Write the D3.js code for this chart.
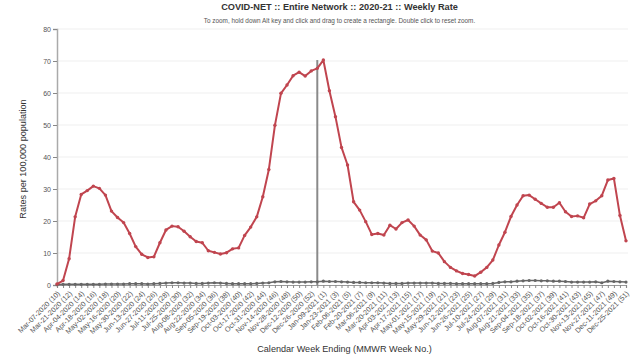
<!DOCTYPE html>
<html>
<head>
<meta charset="utf-8">
<script src="https://cdn.jsdelivr.net/npm/d3@7"></script>
<style>
  html, body { margin: 0; padding: 0; background: #fff; }
  svg { display: block; font-family: "Liberation Sans", Arial, Helvetica, sans-serif; }
</style>
</head>
<body>
<svg id="chart" width="640" height="360"></svg>
<script>
const weeks = [
  "Mar-07-2020 (10)","Mar-14-2020 (11)","Mar-21-2020 (12)","Mar-28-2020 (13)","Apr-04-2020 (14)","Apr-11-2020 (15)",
  "Apr-18-2020 (16)","Apr-25-2020 (17)","May-02-2020 (18)","May-09-2020 (19)","May-16-2020 (20)","May-23-2020 (21)",
  "May-30-2020 (22)","Jun-06-2020 (23)","Jun-13-2020 (24)","Jun-20-2020 (25)","Jun-27-2020 (26)","Jul-04-2020 (27)",
  "Jul-11-2020 (28)","Jul-18-2020 (29)","Jul-25-2020 (30)","Aug-01-2020 (31)","Aug-08-2020 (32)","Aug-15-2020 (33)",
  "Aug-22-2020 (34)","Aug-29-2020 (35)","Sep-05-2020 (36)","Sep-12-2020 (37)","Sep-19-2020 (38)","Sep-26-2020 (39)",
  "Oct-03-2020 (40)","Oct-10-2020 (41)","Oct-17-2020 (42)","Oct-24-2020 (43)","Oct-31-2020 (44)","Nov-07-2020 (45)",
  "Nov-14-2020 (46)","Nov-21-2020 (47)","Nov-28-2020 (48)","Dec-05-2020 (49)","Dec-12-2020 (50)","Dec-19-2020 (51)",
  "Dec-26-2020 (52)","Jan-02-2021 (53)",
  "Jan-09-2021 (1)","Jan-16-2021 (2)","Jan-23-2021 (3)","Jan-30-2021 (4)","Feb-06-2021 (5)","Feb-13-2021 (6)",
  "Feb-20-2021 (7)","Feb-27-2021 (8)","Mar-06-2021 (9)","Mar-13-2021 (10)","Mar-20-2021 (11)","Mar-27-2021 (12)",
  "Apr-03-2021 (13)","Apr-10-2021 (14)","Apr-17-2021 (15)","Apr-24-2021 (16)","May-01-2021 (17)","May-08-2021 (18)",
  "May-15-2021 (19)","May-22-2021 (20)","May-29-2021 (21)","Jun-05-2021 (22)","Jun-12-2021 (23)","Jun-19-2021 (24)",
  "Jun-26-2021 (25)","Jul-03-2021 (26)","Jul-10-2021 (27)","Jul-17-2021 (28)","Jul-24-2021 (29)","Jul-31-2021 (30)",
  "Aug-07-2021 (31)","Aug-14-2021 (32)","Aug-21-2021 (33)","Aug-28-2021 (34)","Sep-04-2021 (35)","Sep-11-2021 (36)",
  "Sep-18-2021 (37)","Sep-25-2021 (38)","Oct-02-2021 (39)","Oct-09-2021 (40)","Oct-16-2021 (41)","Oct-23-2021 (42)",
  "Oct-30-2021 (43)","Nov-06-2021 (44)","Nov-13-2021 (45)","Nov-20-2021 (46)","Nov-27-2021 (47)","Dec-04-2021 (48)",
  "Dec-11-2021 (49)","Dec-18-2021 (50)","Dec-25-2021 (51)"
];

const rateMain = [
  0.3, 1.4, 8.2, 21.3, 28.3, 29.5, 30.9, 30.2, 28.1, 23.1,
  21.1, 19.5, 16.1, 12.0, 9.6, 8.6, 8.8, 13.2, 17.2, 18.4,
  18.2, 16.8, 15.1, 13.6, 13.2, 10.7, 10.2, 9.7, 10.1, 11.3,
  11.6, 15.5, 18.1, 21.3, 27.6, 36.1, 49.9, 59.9, 62.5, 65.4,
  66.5, 65.3, 66.9, 67.7, 70.3, 60.7, 52.6, 43.0, 37.5, 26.0,
  23.4, 19.8, 15.8, 16.1, 15.6, 18.7, 17.5, 19.5, 20.3, 18.4,
  15.6, 14.1, 10.6, 10.0, 7.3, 5.5, 4.4, 3.6, 3.3, 2.8,
  4.0, 5.5, 7.8, 12.5, 16.5, 21.4, 25.0, 27.9, 28.1, 26.8,
  25.5, 24.3, 24.3, 25.7, 22.9, 21.4, 21.6, 21.0, 25.3, 26.3,
  27.9, 32.8, 33.3, 21.7, 13.8
];

const rateSecond = [
  0.1, 0.2, 0.2, 0.2, 0.2, 0.2, 0.2, 0.2, 0.3, 0.3,
  0.3, 0.3, 0.4, 0.4, 0.4, 0.3, 0.4, 0.5, 0.6, 0.7,
  0.7, 0.6, 0.6, 0.5, 0.5, 0.6, 0.7, 0.6, 0.5, 0.4,
  0.4, 0.4, 0.4, 0.5, 0.6, 0.7, 1.0, 1.1, 1.0, 0.9,
  0.9, 0.9, 1.0, 1.0, 1.2, 1.1, 1.1, 1.0, 0.9, 0.8,
  0.8, 0.7, 0.7, 0.7, 0.6, 0.5, 0.5, 0.5, 0.6, 0.6,
  0.6, 0.6, 0.6, 0.5, 0.5, 0.5, 0.4, 0.4, 0.4, 0.4,
  0.4, 0.4, 0.5, 0.8, 1.0, 1.0, 1.2, 1.3, 1.4, 1.4,
  1.3, 1.3, 1.2, 1.2, 1.1, 0.9, 0.9, 0.9, 0.9, 1.0,
  0.7, 1.2, 1.1, 1.0, 0.9
];

const yTicks = [0, 10, 20, 30, 40, 50, 60, 70, 80];
const seasonBreak = "Jan-02-2021 (53)";

const titleText = "COVID-NET :: Entire Network :: 2020-21 :: Weekly Rate";
const subtitleText = "To zoom, hold down Alt key and click and drag to create a rectangle. Double click to reset zoom.";
const yTitle = "Rates per 100,000 population";
const xTitle = "Calendar Week Ending (MMWR Week No.)";

const W = 640, H = 360;
const margin = { top: 29, right: 14, bottom: 75, left: 57 };
const svg = d3.select("#chart");

const x = d3.scalePoint().domain(weeks).range([margin.left, W - margin.right]).padding(0);
const y = d3.scaleLinear().domain([0, 80]).range([H - margin.bottom, margin.top]);

// gridlines
svg.append("g")
  .selectAll("line")
  .data(yTicks.filter(d => d > 0))
  .join("line")
  .attr("x1", margin.left).attr("x2", W - margin.right + 2)
  .attr("y1", d => y(d)).attr("y2", d => y(d))
  .attr("stroke", "#efefef").attr("stroke-width", 1);

// title + subtitle
const cx = (margin.left + W - margin.right) / 2;
svg.append("text").attr("x", cx - 2).attr("y", 10)
  .attr("text-anchor", "middle").attr("font-size", 9.2).attr("font-weight", "bold")
  .attr("fill", "#333").text(titleText);
svg.append("text").attr("x", cx - 2).attr("y", 22.5)
  .attr("text-anchor", "middle").attr("font-size", 6.4)
  .attr("fill", "#555").text(subtitleText);

// y axis
const yAxis = svg.append("g")
  .attr("transform", `translate(${margin.left},0)`)
  .call(d3.axisLeft(y).tickValues(yTicks).tickSize(4).tickPadding(2));
yAxis.select(".domain").attr("stroke", "#aaa").attr("stroke-width", 1.5);
yAxis.selectAll(".tick line").attr("stroke", "#888");
yAxis.selectAll(".tick text").attr("font-size", 7).attr("fill", "#555")
  .attr("font-family", "'Liberation Sans', Arial, sans-serif");

// x axis
const xAxis = svg.append("g")
  .attr("transform", `translate(0,${y(0)})`)
  .call(d3.axisBottom(x)
    .tickValues(weeks)
    .tickSize(3)
    .tickFormat((d, i) => (i % 2 === 0 ? d : "")));
xAxis.select(".domain").attr("stroke", "#999").attr("stroke-width", 1.2);
xAxis.selectAll(".tick line").attr("stroke", "#888");
xAxis.selectAll(".tick text")
  .attr("font-size", 7.2).attr("fill", "#555")
  .attr("font-family", "'Liberation Sans', Arial, sans-serif")
  .attr("text-anchor", "end")
  .attr("dy", null).attr("y", 0)
  .attr("transform", "translate(3,9) rotate(-45)");

// axis titles
svg.append("text")
  .attr("transform", `translate(26,${(y(0) + y(80)) / 2 + 2}) rotate(-90)`)
  .attr("text-anchor", "middle").attr("font-size", 9.1).attr("fill", "#333").text(yTitle);
svg.append("text").attr("x", cx + 3).attr("y", 352)
  .attr("text-anchor", "middle").attr("font-size", 9.1).attr("fill", "#333").text(xTitle);

// season break line
svg.append("line")
  .attr("x1", x(seasonBreak)).attr("x2", x(seasonBreak))
  .attr("y1", y(0)).attr("y2", y(d3.max(rateMain)))
  .attr("stroke", "#8a8a8a").attr("stroke-width", 2);

// series
const line = d3.line().x((d, i) => x(weeks[i])).y(d => y(d));

function drawSeries(values, color, width, r) {
  svg.append("path").datum(values)
    .attr("d", line).attr("fill", "none")
    .attr("stroke", color).attr("stroke-width", width)
    .attr("stroke-linejoin", "round");
  svg.append("g").selectAll("circle").data(values).join("circle")
    .attr("cx", (d, i) => x(weeks[i])).attr("cy", d => y(d))
    .attr("r", r).attr("fill", color);
}

drawSeries(rateSecond, "#666666", 1.5, 1.6);
drawSeries(rateMain, "#c0454f", 2, 1.7);
</script>
</body>
</html>
